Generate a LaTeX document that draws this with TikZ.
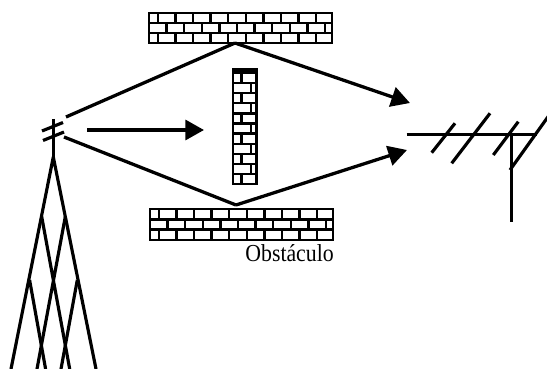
\documentclass[tikz,border=0pt]{standalone}
\usepackage{fontspec}
\setmainfont{Liberation Serif}
\usetikzlibrary{arrows.meta}

\begin{document}
\begin{tikzpicture}[x=0.03cm,y=-0.03cm,line join=miter,
  ray/.style={line width=2.8pt},
  tip/.style={-{Triangle[length=0.56cm,width=0.6cm]}},
  brick/.style={line width=2.1pt},
  mast/.style={line width=2.7pt}]
\useasboundingbox (0,0) rectangle (547,369);

% upper wall
\draw[brick] (149,13) rectangle (332,43);
\draw[brick] (149,23) -- (332,23) (149,33) -- (332,33);
\foreach \k in {0,...,9}{
  \draw[brick] (157.8+17.6*\k,13) -- ++(0,10);
  \draw[brick] (157.8+17.6*\k,33) -- ++(0,10);
}
\foreach \k in {1,...,10}
  \draw[brick] (149+17.6*\k,23) -- ++(0,10);

% lower wall
\draw[brick] (150,209) rectangle (333,240);
\draw[brick] (150,219.3) -- (333,219.3) (150,229.7) -- (333,229.7);
\foreach \k in {0,...,9}{
  \draw[brick] (158.8+17.6*\k,209) -- ++(0,10.3);
  \draw[brick] (158.8+17.6*\k,229.7) -- ++(0,10.3);
}
\foreach \k in {1,...,10}
  \draw[brick] (150+17.6*\k,219.3) -- ++(0,10.4);
\node[anchor=base east,inner sep=0pt,font=\fontsize{18.6}{18.6}\selectfont]
  (obst) at (334,262) {\scalebox{1}[1.12]{Obstáculo}};

% middle wall, standing
\draw[brick] (233,69.5) rectangle (256.5,184);
\foreach \k in {0,...,10}
  \draw[brick] (233,72.7+10.15*\k) -- (256.5,72.7+10.15*\k);
\draw[brick] (251,69.5) -- (251,72.7);
\foreach \k in {0,...,10}{
  \pgfmathsetmacro\jx{mod(\k,2)==0 ? 241.7 : 251}
  \draw[brick] (\jx,72.7+10.15*\k) -- ++(0,10.15);
}

% tower
\coordinate (apex) at (53.3,157);
\coordinate (l1) at (41.7,216.7);
\coordinate (r1) at (65.3,216.7);
\coordinate (l2) at (29.6,280);
\coordinate (r2) at (77.3,280);
\draw[mast] (53.3,119) -- (apex);
\draw[mast] (apex) -- (11,369) (apex) -- (96,369);
\draw[mast] (l1) -- (69.7,369) (r1) -- (37,369);
\draw[mast] (l2) -- (45.6,369) (r2) -- (61,369);
% transmitter dipole
\draw[mast] (42,131) -- (63,122.5) (43,140.5) -- (64,132);

% rays
\coordinate (tx-up) at (66,117);
\coordinate (tx-mid) at (87,130);
\coordinate (tx-dn) at (64,137);
\coordinate (hit-up) at (235,43);
\coordinate (hit-dn) at (236,205);
\coordinate (rx-up) at (410,103);
\coordinate (rx-dn) at (407,150);
\coordinate (stop) at (204,130);
\draw[ray] (tx-up) -- (hit-up);
\draw[ray,tip] (hit-up) -- (rx-up);
\draw[ray] (tx-dn) -- (hit-dn);
\draw[ray,tip] (hit-dn) -- (rx-dn);
\draw[ray,tip] (tx-mid) -- (stop);

% receiving antenna
\draw[mast] (406.7,134.3) -- (536.7,134.3);
\draw[mast] (431.7,152.7) -- (455,123.3);
\draw[mast] (451.7,163.3) -- (490,113.3);
\draw[mast] (493.3,155) -- (518.3,121.7);
\draw[mast] (510,170) -- (550,114);
\draw[mast] (511.7,134.3) -- (511.7,221.7);
\end{tikzpicture}
\end{document}
